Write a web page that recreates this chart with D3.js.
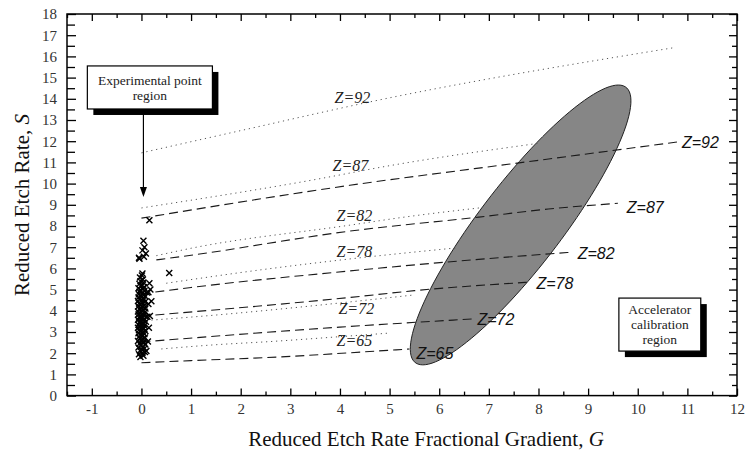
<!DOCTYPE html>
<html>
<head>
<meta charset="utf-8">
<script src="https://cdn.jsdelivr.net/npm/d3@7"></script>
<style>
  html, body { margin: 0; padding: 0; background: #fff; }
  svg { display: block; }
</style>
</head>
<body>
<svg id="chart" width="748" height="451"></svg>
<script>
// ---- data -------------------------------------------------------------
// Tick values for the two axes
const xTicks = [-1, 0, 1, 2, 3, 4, 5, 6, 7, 8, 9, 10, 11, 12];
const yTicks = [0, 1, 2, 3, 4, 5, 6, 7, 8, 9, 10, 11, 12, 13, 14, 15, 16, 17, 18];

// Charge labels
const zValues = [92, 87, 82, 78, 72, 65];

// Dotted curves, one [G, S] list per Z
const dottedCurves = [
  [[0, 11.45], [2, 12.5], [4.8, 13.95], [10.7, 16.4]],
  [[0, 8.85], [3.45, 10.17], [5.06, 10.87], [8.0, 11.9]],
  [[0.3, 6.6], [1, 6.95], [4.2, 8.04], [5.3, 8.42], [6.8, 8.85]],
  [[0.5, 5.3], [2.3, 5.9], [4.1, 6.42], [6.4, 6.98]],
  [[0.2, 3.56], [1.5, 3.8], [3.0, 4.13], [5.5, 4.75]],
  [[0.4, 2.2], [1.5, 2.4], [2.6, 2.55], [4.0, 2.78], [5.0, 2.95]]
];
// Label anchor [G, S] for each dotted curve
const dottedLabelAt = [[3.89, 14.08], [3.85, 10.87], [3.93, 8.52], [3.93, 6.82], [3.97, 4.13], [3.93, 2.62]];

// Dashed curves, one [G, S] list per Z
const dashedCurves = [
  [[0, 8.37], [4.2, 9.92], [7.68, 11.0], [10.79, 11.96]],
  [[0.3, 6.4], [1, 6.62], [4.2, 7.76], [6.8, 8.42], [8.2, 8.8], [9.6, 9.07]],
  [[0, 4.8], [1, 5.1], [4.2, 5.88], [6.15, 6.3], [8.7, 6.77]],
  [[0, 3.75], [4.2, 4.63], [5.5, 4.95], [7.8, 5.35]],
  [[0, 2.53], [4, 3.23], [6.7, 3.62]],
  [[0, 1.55], [1, 1.65], [3, 1.85], [4.2, 2.02], [5.4, 2.2]]
];
// Label anchor [G, S] for each dashed curve
const dashedLabelAt = [[10.89, 11.96], [9.78, 8.89], [8.79, 6.73], [7.96, 5.31], [6.77, 3.61], [5.54, 2.0]];

// Calibration region: centre and two conjugate semi-diameter ends, [G, S]
const calibCentre = [7.64, 8.05];
const calibTip = [9.61, 14.65];
const calibSide = [8.67, 8.05];

// Measured points (G, S)
const pointsG = [
  -0.02, 0.04, -0.05, 0.02, 0.07, -0.03, 0.01, 0.06, -0.06, 0.03,
  -0.01, 0.08, -0.04, 0.02, 0.05, -0.07, 0.0, 0.04, -0.03, 0.07,
  -0.05, 0.02, -0.01, 0.06, -0.06, 0.03, -0.02, 0.08, -0.05, 0.01,
  0.05, -0.07, 0.02, -0.03, 0.06, -0.06, 0.0, 0.04, -0.04, 0.09,
  -0.02, 0.03, -0.07, 0.06, 0.0, -0.05, 0.12, -0.02, 0.05, -0.06,
  0.02, -0.03, 0.07, -0.07, 0.01, 0.04, -0.04, 0.08, -0.01, 0.03,
  -0.06, 0.06, -0.02, 0.14, -0.05, 0.02, 0.07, -0.07, 0.0, 0.05,
  -0.03, 0.03, -0.06, 0.08, -0.01, 0.04, -0.05, 0.02, 0.11, -0.04,
  0.06, -0.02, 0.03, -0.06, 0.05, -0.01, 0.02, -0.04, 0.04, -0.02,
  0.03, -0.03, 0.01, 0.02,
  0.18, 0.2, 0.17, 0.15, 0.13, 0.1, 0.14, 0.16,
  -0.04, 0.05, -0.05, 0.09, 0.02, 0.06, 0.04, 0.16, 0.56
];
const pointsS = [
  1.82, 1.88, 1.95, 2.01, 2.06, 2.12, 2.17, 2.22, 2.27, 2.31,
  2.36, 2.41, 2.45, 2.5, 2.54, 2.58, 2.62, 2.66, 2.7, 2.74,
  2.78, 2.82, 2.86, 2.9, 2.94, 2.98, 3.02, 3.05, 3.09, 3.12,
  3.16, 3.2, 3.23, 3.27, 3.3, 3.34, 3.37, 3.41, 3.44, 3.48,
  3.51, 3.55, 3.58, 3.62, 3.65, 3.69, 3.72, 3.76, 3.79, 3.83,
  3.86, 3.9, 3.93, 3.97, 4.0, 4.04, 4.07, 4.11, 4.14, 4.18,
  4.21, 4.25, 4.28, 4.32, 4.35, 4.39, 4.42, 4.46, 4.49, 4.53,
  4.56, 4.6, 4.63, 4.67, 4.7, 4.74, 4.78, 4.82, 4.86, 4.9,
  4.94, 4.98, 5.02, 5.06, 5.11, 5.16, 5.21, 5.27, 5.33, 5.4,
  5.48, 5.57, 5.66, 5.76,
  5.0, 4.45, 3.75, 3.2, 2.55, 2.1, 4.88, 5.3,
  6.45, 6.55, 6.5, 6.7, 6.85, 7.0, 7.3, 8.27, 5.78
];

// Annotation boxes and arrow, in data units
const noteExp = { g0: -1.09, g1: 1.43, s0: 13.52, s1: 15.55, lines: ["Experimental point", "region"] };
const noteArrow = { g: 0.04, sFrom: 13.52, sTo: 9.37 };
const noteAcc = { g0: 9.62, g1: 11.27, s0: 2.1, s1: 4.6, lines: ["Accelerator", "calibration", "region"] };

// ---- layout -----------------------------------------------------------
const svg = d3.select("#chart");
const plot = { left: 67, right: 737, top: 14, bottom: 395.6 };
const x = d3.scaleLinear().domain([-1.5, 12]).range([plot.left, plot.right]);
const y = d3.scaleLinear().domain([0, 18]).range([plot.bottom, plot.top]);

const serif = "'Liberation Serif', 'Times New Roman', serif";
const sans = "'Liberation Sans', Arial, Helvetica, sans-serif";

// ---- calibration ellipse -----------------------------------------------
const cP = [x(calibCentre[0]), y(calibCentre[1])];
const aV = [x(calibTip[0]) - cP[0], y(calibTip[1]) - cP[1]];
const bV = [x(calibSide[0]) - cP[0], y(calibSide[1]) - cP[1]];
const ellPts = d3.range(0, 361, 3).map(deg => {
  const t = deg * Math.PI / 180;
  return [cP[0] + Math.cos(t) * aV[0] + Math.sin(t) * bV[0],
          cP[1] + Math.cos(t) * aV[1] + Math.sin(t) * bV[1]];
});
svg.append("path")
  .attr("d", d3.line().curve(d3.curveLinearClosed)(ellPts))
  .attr("fill", "#868686")
  .attr("stroke", "#222")
  .attr("stroke-width", 1);

// ---- curves -----------------------------------------------------------
const curve = d3.line().x(d => x(d[0])).y(d => y(d[1])).curve(d3.curveMonotoneX);

svg.append("g").selectAll("path").data(dottedCurves).join("path")
  .attr("d", curve)
  .attr("fill", "none")
  .attr("stroke", "#555")
  .attr("stroke-width", 1)
  .attr("stroke-dasharray", "1.2,3.8");

svg.append("g").selectAll("path").data(dashedCurves).join("path")
  .attr("d", curve)
  .attr("fill", "none")
  .attr("stroke", "#1a1a1a")
  .attr("stroke-width", 1.1)
  .attr("stroke-dasharray", "9,5");

// Labels for dotted curves
svg.append("g").selectAll("text").data(zValues).join("text")
  .attr("x", (d, i) => x(dottedLabelAt[i][0]))
  .attr("y", (d, i) => y(dottedLabelAt[i][1]))
  .attr("dy", "0.35em")
  .attr("font-family", serif)
  .attr("font-style", "italic")
  .attr("font-size", 16)
  .attr("fill", "#222")
  .text(d => "Z=" + d);

// Labels for dashed curves
svg.append("g").selectAll("text").data(zValues).join("text")
  .attr("x", (d, i) => x(dashedLabelAt[i][0]))
  .attr("y", (d, i) => y(dashedLabelAt[i][1]))
  .attr("dy", "0.36em")
  .attr("font-family", sans)
  .attr("font-style", "italic")
  .attr("font-size", 16)
  .attr("fill", "#111")
  .text(d => "Z=" + d);

// ---- measured points ---------------------------------------------------
const cross = "M-3,-3L3,3M-3,3L3,-3";
svg.append("g").selectAll("path").data(pointsS).join("path")
  .attr("transform", (d, i) => `translate(${x(pointsG[i])},${y(d)})`)
  .attr("d", cross)
  .attr("fill", "none")
  .attr("stroke", "#000")
  .attr("stroke-width", 1.4);

// ---- annotation boxes ----------------------------------------------------
function noteBox(n, lineGap) {
  const bx = x(n.g0), by = y(n.s1), bw = x(n.g1) - x(n.g0), bh = y(n.s0) - y(n.s1);
  const g = svg.append("g");
  g.append("rect").attr("x", bx + 6).attr("y", by + 6).attr("width", bw).attr("height", bh).attr("fill", "#000");
  g.append("rect").attr("x", bx).attr("y", by).attr("width", bw).attr("height", bh)
    .attr("fill", "#fff").attr("stroke", "#000").attr("stroke-width", 1.2);
  const n0 = n.lines.length;
  g.selectAll("text").data(n.lines).join("text")
    .attr("x", bx + bw / 2)
    .attr("y", (d, i) => by + bh / 2 + (i - (n0 - 1) / 2) * lineGap)
    .attr("dy", "0.35em")
    .attr("text-anchor", "middle")
    .attr("font-family", serif)
    .attr("font-size", 13.5)
    .attr("fill", "#222")
    .text(d => d);
}
noteBox(noteExp, 15);
noteBox(noteAcc, 15);

// Arrow from the experimental-point note
{
  const ax = x(noteArrow.g), y0 = y(noteArrow.sFrom), y1 = y(noteArrow.sTo);
  svg.append("line").attr("x1", ax).attr("x2", ax).attr("y1", y0).attr("y2", y1 - 9)
    .attr("stroke", "#000").attr("stroke-width", 1.2);
  svg.append("path")
    .attr("d", `M${ax - 3.5},${y1 - 10}L${ax + 3.5},${y1 - 10}L${ax},${y1}Z`)
    .attr("fill", "#000");
}

// ---- axes --------------------------------------------------------------
const minorX = d3.range(-1.5, 12.01, 0.5).filter(v => Math.abs(v - Math.round(v)) > 0.01);
const minorY = d3.range(0.5, 18, 1);
const plainInt = d => String(d);

function styleAxis(g) {
  g.select(".domain").remove();
  g.selectAll(".tick line").attr("stroke", "#000").attr("stroke-width", 1.3);
  g.selectAll(".tick text").attr("font-family", serif).attr("font-size", 15).attr("fill", "#333");
}

svg.append("g").attr("transform", `translate(0,${plot.bottom})`)
  .call(d3.axisBottom(x).tickValues(xTicks).tickSize(-7).tickPadding(8).tickFormat(plainInt))
  .call(styleAxis);
svg.append("g").attr("transform", `translate(0,${plot.bottom})`)
  .call(d3.axisBottom(x).tickValues(minorX).tickSize(-4).tickFormat(""))
  .call(styleAxis);
svg.append("g").attr("transform", `translate(0,${plot.top})`)
  .call(d3.axisTop(x).tickValues(xTicks).tickSize(-7).tickFormat(""))
  .call(styleAxis);
svg.append("g").attr("transform", `translate(0,${plot.top})`)
  .call(d3.axisTop(x).tickValues(minorX).tickSize(-4).tickFormat(""))
  .call(styleAxis);

svg.append("g").attr("transform", `translate(${plot.left},0)`)
  .call(d3.axisLeft(y).tickValues(yTicks).tickSize(-9).tickPadding(10).tickFormat(plainInt))
  .call(styleAxis);
svg.append("g").attr("transform", `translate(${plot.left},0)`)
  .call(d3.axisLeft(y).tickValues(minorY).tickSize(-8).tickFormat(""))
  .call(styleAxis);
svg.append("g").attr("transform", `translate(${plot.right},0)`)
  .call(d3.axisRight(y).tickValues(yTicks).tickSize(-8).tickFormat(""))
  .call(styleAxis);
svg.append("g").attr("transform", `translate(${plot.right},0)`)
  .call(d3.axisRight(y).tickValues(minorY).tickSize(-5).tickFormat(""))
  .call(styleAxis);

// Frame
svg.append("rect")
  .attr("x", plot.left).attr("y", plot.top)
  .attr("width", plot.right - plot.left).attr("height", plot.bottom - plot.top)
  .attr("fill", "none").attr("stroke", "#000").attr("stroke-width", 1.5);

// ---- axis titles -------------------------------------------------------
const xt = svg.append("text")
  .attr("x", 426).attr("y", 446)
  .attr("text-anchor", "middle")
  .attr("font-family", serif).attr("font-size", 21).attr("fill", "#111");
xt.append("tspan").text("Reduced Etch Rate Fractional Gradient, ");
xt.append("tspan").attr("font-style", "italic").text("G");

const yt = svg.append("text")
  .attr("transform", "translate(29,205) rotate(-90)")
  .attr("text-anchor", "middle")
  .attr("font-family", serif).attr("font-size", 21).attr("fill", "#111");
yt.append("tspan").text("Reduced Etch Rate, ");
yt.append("tspan").attr("font-style", "italic").text("S");
</script>
</body>
</html>
